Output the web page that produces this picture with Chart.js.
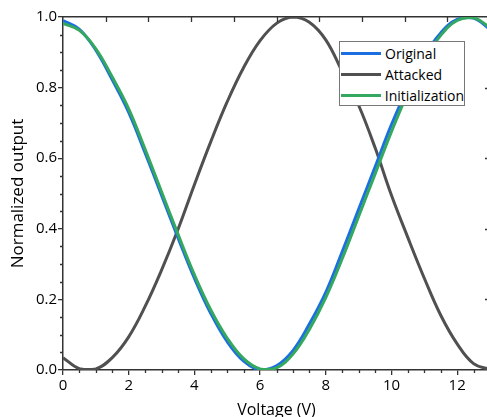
<!DOCTYPE html>
<html>
<head>
<meta charset="utf-8">
<script src="https://cdn.jsdelivr.net/npm/chart.js@4.4.1/dist/chart.umd.min.js"></script>
<style>
    html, body { margin: 0; padding: 0; background: #fff; overflow: hidden; }
    .wrap { position: relative; width: 492px; height: 417px; }
    .legend {
        position: absolute; left: 339px; top: 41px; width: 126px; height: 65px;
        border: 1px solid #777; background: #fff; box-sizing: border-box;
        font-family: "Open Sans", sans-serif; font-size: 14px; color: #000;
        padding-top: 1px;
    }
    .legend .item { display: flex; align-items: center; height: 21px; }
    .legend .swatch { width: 40px; height: 3px; margin: 0 4px 0 1px; }
</style>
</head>
<body>
<div class="wrap">
    <canvas id="chart" width="492" height="417"></canvas>
    <div class="legend" id="legend"></div>
</div>
<script>
// 数据
const voltage = [0, 0.5, 1, 1.5, 2, 2.5, 3, 3.5, 4, 4.5, 5, 5.5, 6, 6.5,
    7, 7.5, 8, 8.5, 9, 9.5, 10, 10.5, 11, 11.5, 12, 12.5, 13];
const original = [0.99, 0.965, 0.906, 0.822, 0.73, 0.615, 0.495, 0.375, 0.26, 0.16, 0.08, 0.025, 0.0, 0.012,
    0.055, 0.13, 0.22, 0.335, 0.455, 0.575, 0.695, 0.8, 0.89, 0.955, 0.993, 0.997, 0.965];
const attacked = [0.035, 0.004, 0.003, 0.035, 0.094, 0.18, 0.283, 0.398, 0.525, 0.647, 0.76, 0.857, 0.933, 0.982,
    1.0, 0.985, 0.935, 0.845, 0.75, 0.63, 0.495, 0.375, 0.26, 0.155, 0.074, 0.018, 0.002];
const initialization = [0.982, 0.962, 0.91, 0.83, 0.74, 0.625, 0.505, 0.385, 0.27, 0.17, 0.09, 0.032, 0.003, 0.006,
    0.045, 0.115, 0.205, 0.315, 0.435, 0.555, 0.675, 0.785, 0.878, 0.948, 0.99, 0.998, 0.97];
const xTicks = [0, 2, 4, 6, 8, 10, 12];
const yTicks = [0, 0.2, 0.4, 0.6, 0.8, 1.0];

const axisColor = '#333';
const font = 'Open Sans';

const series = [
    { label: 'Original', values: original, color: '#1c6fe0', order: 1 },
    { label: 'Attacked', values: attacked, color: '#505050', order: 2 },
    { label: 'Initialization', values: initialization, color: '#35a860', order: 0 }
];

// 轴上的小刻度和镜像刻度
const tickPlugin = {
    id: 'frameTicks',
    afterDraw(chart) {
        const { ctx, chartArea, scales } = chart;
        const x = scales.x, y = scales.y, x2 = scales.x2;
        ctx.save();
        ctx.strokeStyle = axisColor;
        ctx.lineWidth = 1.3;
        ctx.beginPath();
        // 下方小刻度
        for (let v = 0.5; v < 13; v += 0.5) {
            if (v % 2 === 0) continue;
            const px = Math.round(x.getPixelForValue(v)) + 0.5;
            ctx.moveTo(px, chartArea.bottom);
            ctx.lineTo(px, chartArea.bottom + 3);
        }
        // 左侧小刻度
        for (let i = 1; i < 20; i++) {
            if (i % 4 === 0) continue;
            const py = Math.round(y.getPixelForValue(i * 0.05)) + 0.5;
            ctx.moveTo(chartArea.left, py);
            ctx.lineTo(chartArea.left - 3, py);
        }
        // 上方刻度(向内)
        for (let v = 1; v < 10; v++) {
            const px = Math.round(x2.getPixelForValue(v)) + 0.5;
            ctx.moveTo(px, chartArea.top);
            ctx.lineTo(px, chartArea.top + 5);
        }
        // 右侧刻度(向内)
        yTicks.slice(1, -1).forEach(v => {
            const py = Math.round(y.getPixelForValue(v)) + 0.5;
            ctx.moveTo(chartArea.right, py);
            ctx.lineTo(chartArea.right - 5, py);
        });
        ctx.stroke();
        ctx.restore();
    }
};

const chart = new Chart(document.getElementById('chart'), {
    type: 'line',
    data: {
        datasets: series.map(s => ({
            label: s.label,
            data: voltage.map((v, i) => ({ x: v, y: s.values[i] })),
            borderColor: s.color,
            backgroundColor: s.color,
            borderWidth: 3,
            pointRadius: 0,
            tension: 0.4,
            order: s.order
        }))
    },
    options: {
        responsive: false,
        animation: false,
        layout: { padding: { top: 17, right: 2, left: 0, bottom: 0 } },
        plugins: {
            legend: { display: false },
            tooltip: { enabled: false }
        },
        scales: {
            x: {
                type: 'linear',
                min: 0,
                max: 13,
                afterBuildTicks: s => { s.ticks = xTicks.map(v => ({ value: v })); },
                afterFit: s => { s.height = 47; },
                border: { color: axisColor, width: 1.5 },
                grid: { drawOnChartArea: false, drawTicks: true, tickLength: 5, color: axisColor, lineWidth: 1.3 },
                ticks: { color: '#000', font: { family: font, size: 15 }, padding: 2, maxRotation: 0 },
                title: {
                    display: true, text: 'Voltage (V)', color: '#000',
                    font: { family: font, size: 16, lineHeight: 1.0 }, padding: { top: 0, bottom: -1 }
                }
            },
            x2: {
                type: 'linear',
                position: 'top',
                min: 0,
                max: 10,
                afterFit: s => { s.height = 0; },
                border: { color: axisColor, width: 1.5 },
                grid: { drawOnChartArea: false, drawTicks: false },
                ticks: { display: false }
            },
            y: {
                min: 0,
                max: 1,
                afterBuildTicks: s => { s.ticks = yTicks.map(v => ({ value: v })); },
                afterFit: s => { s.width = 63; },
                border: { color: axisColor, width: 1.5 },
                grid: { drawOnChartArea: false, drawTicks: true, tickLength: 5, color: axisColor, lineWidth: 1.3 },
                ticks: {
                    color: '#000', font: { family: font, size: 15 }, padding: 1,
                    callback: v => v.toFixed(1)
                },
                title: {
                    display: true, text: 'Normalized output', color: '#000',
                    font: { family: font, size: 17, lineHeight: 1.0 }, padding: { top: 10, bottom: 0 }
                }
            }
        }
    },
    plugins: [tickPlugin]
});

// 图例
const legend = document.getElementById('legend');
series.forEach(s => {
    const item = document.createElement('div');
    item.className = 'item';
    item.innerHTML = `<span class="swatch" style="background:${s.color}"></span><span>${s.label}</span>`;
    legend.appendChild(item);
});
</script>
</body>
</html>
